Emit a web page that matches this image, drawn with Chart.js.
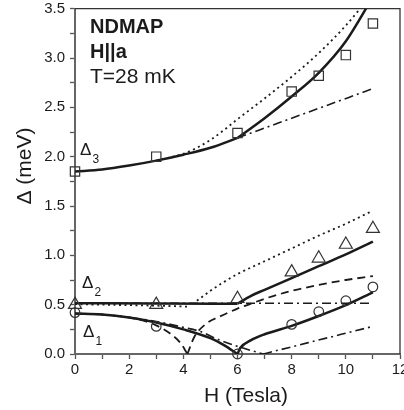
<!DOCTYPE html>
<html>
<head>
<meta charset="utf-8">
<script src="https://cdn.jsdelivr.net/npm/chart.js@4.4.1/dist/chart.umd.min.js"></script>
<style>
  html, body { margin: 0; padding: 0; background: #fff; overflow: hidden; }
  canvas { display: block; }
</style>
</head>
<body>
<canvas id="gapChart" width="420" height="410"></canvas>
<script>
// measured points (field in Tesla, gap in meV)
const fieldObs = [0, 3, 6, 8, 9, 10, 11];
const gap3Obs = [1.85, 2.0, 2.24, 2.66, 2.82, 3.03, 3.35];
const gap2Obs = [0.5, 0.5, 0.56, 0.83, 0.97, 1.11, 1.27];
const gap1Obs = [0.42, 0.28, 0.0, 0.30, 0.43, 0.54, 0.68];

// model curves
const d3SolidLoX = [0, 1, 2, 3, 4, 5, 6];
const d3SolidLoY = [1.85, 1.87, 1.91, 1.96, 2.02, 2.09, 2.19];
const d3SolidHiX = [6, 7, 8, 9, 10, 11];
const d3SolidHiY = [2.19, 2.39, 2.61, 2.85, 3.17, 3.62];
const d3DotX = [3, 4, 4.5, 5, 5.5, 6, 7, 8, 9, 10, 11];
const d3DotY = [1.96, 2.03, 2.09, 2.17, 2.27, 2.38, 2.59, 2.81, 3.05, 3.33, 3.66];
const d3DashDotX = [6, 8.5, 11];
const d3DashDotY = [2.19, 2.44, 2.69];

const d2SolidLoX = [0, 3, 6];
const d2SolidLoY = [0.515, 0.512, 0.51];
const d2SolidHiX = [6, 6.5, 7, 8, 9, 10, 11];
const d2SolidHiY = [0.51, 0.59, 0.65, 0.77, 0.89, 1.01, 1.14];
const d2DotX = [0, 1, 2, 3, 4.2, 4.35, 4.5, 5, 5.5, 6, 7, 8, 9, 10, 10.9];
const d2DotY = [0.505, 0.5, 0.495, 0.49, 0.48, null, 0.54, 0.64, 0.73, 0.81, 0.94, 1.07, 1.2, 1.32, 1.44];
const d2DashX = [4.15, 4.4, 4.86, 5.35, 6, 6.5, 7, 8, 9, 10, 11];
const d2DashY = [0, 0.17, 0.31, 0.38, 0.46, 0.51, 0.56, 0.64, 0.70, 0.75, 0.79];
const d2DashDotX = [0, 11];
const d2DashDotY = [0.515, 0.515];

const d1SolidLoX = [0, 1, 2, 3, 4, 5, 5.5, 6];
const d1SolidLoY = [0.41, 0.40, 0.37, 0.32, 0.25, 0.16, 0.09, 0.0];
const d1SolidHiX = [6, 6.1, 6.5, 7, 8, 9, 10, 11];
const d1SolidHiY = [0.0, 0.06, 0.14, 0.2, 0.285, 0.385, 0.495, 0.625];
const d1DashX = [0, 1, 2, 2.5, 3, 3.5, 3.9, 4.15];
const d1DashY = [0.41, 0.40, 0.37, 0.34, 0.29, 0.21, 0.11, 0.0];
const d1DashDotLoX = [0, 1, 2, 3, 4, 4.6, 5.35, 6.2, 6.95];
const d1DashDotLoY = [0.41, 0.40, 0.37, 0.33, 0.27, 0.23, 0.14, 0.06, 0.0];
const d1DashDotHiX = [6.95, 11];
const d1DashDotHiY = [0.0, 0.28];

const xTicks = [0, 2, 4, 6, 8, 10, 12];
const yTicks = [0, 0.5, 1.0, 1.5, 2.0, 2.5, 3.0, 3.5];

function pts(xs, ys) {
  return xs.map((x, i) => ({ x: x, y: ys[i] }));
}

const ink = "#1b1b1b";

function curve(xs, ys, dash, width) {
  return {
    type: "line",
    data: pts(xs, ys),
    borderColor: ink,
    borderWidth: width,
    borderDash: dash,
    pointRadius: 0,
    fill: false,
    spanGaps: false,
    cubicInterpolationMode: "monotone"
  };
}

function markers(ys, style, r) {
  return {
    type: "scatter",
    data: pts(fieldObs, ys),
    pointStyle: style,
    pointRadius: r,
    pointBackgroundColor: "rgba(255,255,255,0)",
    pointBorderColor: "#333",
    pointBorderWidth: 1.2,
    showLine: false,
    clip: false
  };
}

const dotted = [2, 3.5];
const dashed = [8, 5];
const dashDot = [9, 4, 2, 4];

// frame on top and right, plus the annotations
const annotate = {
  id: "annotate",
  beforeDatasetsDraw(chart) {
    const { ctx, chartArea: a } = chart;
    ctx.save();
    ctx.strokeStyle = "#333";
    ctx.lineWidth = 1.3;
    ctx.beginPath();
    ctx.moveTo(a.left, a.top);
    ctx.lineTo(a.right, a.top);
    ctx.lineTo(a.right, a.bottom);
    ctx.stroke();
    ctx.restore();
  },
  afterDraw(chart) {
    const ctx = chart.ctx;
    const fam = "'Liberation Sans', Arial, sans-serif";
    ctx.save();
    ctx.fillStyle = ink;
    ctx.textAlign = "left";
    ctx.textBaseline = "alphabetic";
    ctx.font = "bold 20px " + fam;
    ctx.fillText("NDMAP", 90, 33);
    ctx.fillText("H||a", 90, 58);
    ctx.font = "21px " + fam;
    ctx.fillText("T=28 mK", 90, 83);

    const sub = [["3", 80, 155], ["2", 82, 288], ["1", 83, 337]];
    sub.forEach(s => {
      ctx.font = "17px " + fam;
      ctx.fillText("\u0394", s[1], s[2]);
      ctx.font = "12px " + fam;
      ctx.fillText(s[0], s[1] + 12.5, s[2] + 8);
    });

    ctx.font = "21px " + fam;
    ctx.textAlign = "center";
    ctx.fillText("H (Tesla)", 246, 402);

    ctx.translate(31, 166);
    ctx.rotate(-Math.PI / 2);
    ctx.fillText("\u0394 (meV)", 0, 0);
    ctx.restore();
  }
};

const tickFont = { family: "'Liberation Sans', Arial, sans-serif", size: 15 };

new Chart(document.getElementById("gapChart"), {
  type: "line",
  data: {
    datasets: [
      markers(gap3Obs, "rect", 6.6),
      markers(gap2Obs, "triangle", 7.5),
      markers(gap1Obs, "circle", 4.8),
      curve(d3SolidLoX, d3SolidLoY, [], 2.5),
      curve(d3SolidHiX, d3SolidHiY, [], 2.5),
      curve(d2SolidLoX, d2SolidLoY, [], 2.5),
      curve(d2SolidHiX, d2SolidHiY, [], 2.5),
      curve(d1SolidLoX, d1SolidLoY, [], 2.5),
      curve(d1SolidHiX, d1SolidHiY, [], 2.5),
      curve(d3DotX, d3DotY, dotted, 1.8),
      curve(d2DotX, d2DotY, dotted, 1.8),
      curve(d2DashX, d2DashY, dashed, 1.8),
      curve(d1DashX, d1DashY, dashed, 1.8),
      curve(d3DashDotX, d3DashDotY, dashDot, 1.6),
      curve(d2DashDotX, d2DashDotY, dashDot, 1.6),
      curve(d1DashDotLoX, d1DashDotLoY, dashDot, 1.6),
      curve(d1DashDotHiX, d1DashDotHiY, dashDot, 1.6)
    ]
  },
  options: {
    responsive: false,
    animation: false,
    layout: { padding: { top: 7, right: 20, left: 0, bottom: 0 } },
    plugins: { legend: { display: false }, tooltip: { enabled: false } },
    scales: {
      x: {
        type: "linear",
        min: 0,
        max: 12,
        afterFit: s => { s.height = 56; s.paddingLeft = 0; s.paddingRight = 0; },
        border: { display: true, color: "#666", width: 2 },
        grid: { drawOnChartArea: false, drawTicks: true, tickLength: 5, tickColor: "#555", tickWidth: 1.3 },
        ticks: {
          stepSize: 1,
          autoSkip: false,
          maxRotation: 0,
          padding: 2,
          color: ink,
          font: tickFont,
          callback: v => (xTicks.includes(v) ? String(v) : "")
        }
      },
      y: {
        type: "linear",
        min: 0,
        max: 3.5,
        afterFit: s => { s.width = 75; s.paddingTop = 0; s.paddingBottom = 0; },
        border: { display: true, color: "#666", width: 2 },
        grid: { drawOnChartArea: false, drawTicks: true, tickLength: 5, tickColor: "#555", tickWidth: 1.3 },
        ticks: {
          stepSize: 0.25,
          autoSkip: false,
          padding: 5,
          color: ink,
          font: tickFont,
          callback: v => (yTicks.some(t => Math.abs(t - v) < 1e-6) ? v.toFixed(1) : "")
        }
      }
    }
  },
  plugins: [annotate]
});
</script>
</body>
</html>
